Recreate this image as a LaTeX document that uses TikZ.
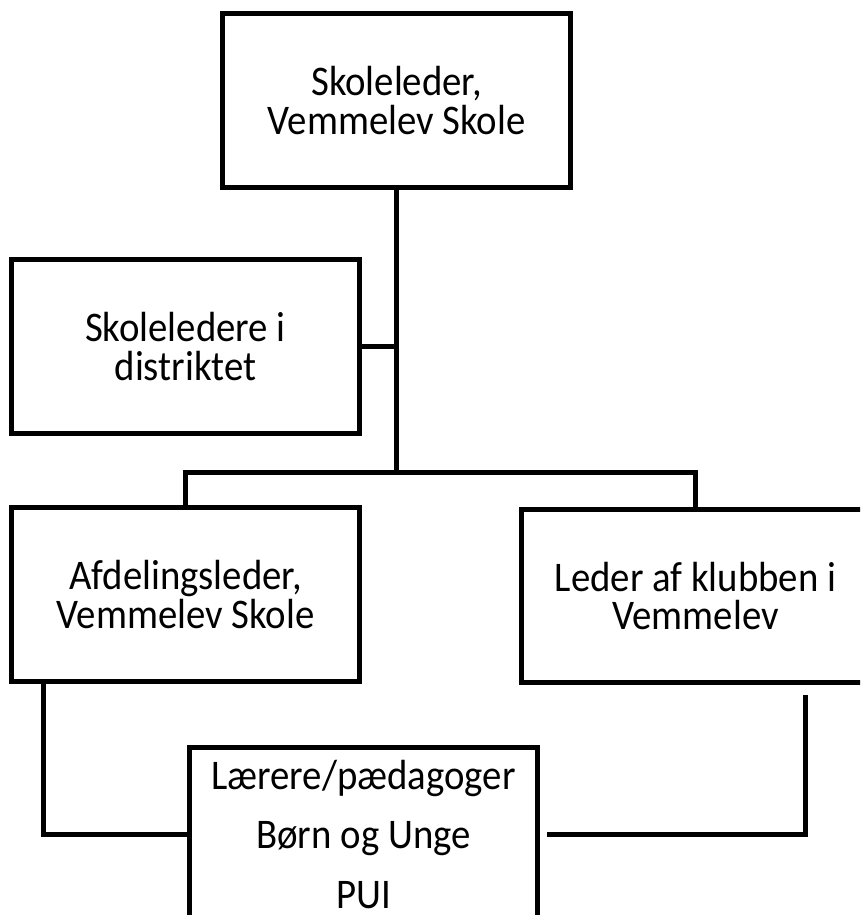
\documentclass[tikz,border=0pt]{standalone}
\usepackage{fontspec}
\setmainfont{Carlito}[FakeStretch=0.92]
\usetikzlibrary{calc}

\begin{document}
\begin{tikzpicture}[x=.02cm,y=-.02cm]
	\tikzset{orgbox/.style={draw,line width=.1cm,minimum width=6.98cm,minimum height=3.48cm,
		inner sep=0pt,align=center,font=\fontsize{24}{22}\selectfont},
		orglink/.style={line width=.1cm}}
	\useasboundingbox (0,0) rectangle (860,915);
	\clip (0,0) rectangle (860,915);
	
	% boxes
	\node[orgbox] (lead) at (396.5,100.5) {Skoleleder,\\Vemmelev Skole};
	\node[orgbox] (district) at (185.5,346.5) {Skoleledere i\\distriktet};
	\node[orgbox] (afd) at (185.5,594.5) {Afdelingsleder,\\Vemmelev Skole};
	\node[orgbox] (klub) at (695.5,596) {Leder af klubben i\\Vemmelev};
	\node[orgbox,font=\fontsize{24}{34}\selectfont] (staff) at (363.5,834.5) {L\ae rere/p\ae dagoger\\B\o rn og Unge\\PUI};
	
	% lines
	\coordinate (fork) at (lead.south |- 0,472);
	\draw[orglink] (lead.south) -- (fork);
	\draw[orglink] (district.east) -- (district.east -| lead.south);
	\draw[orglink] (afd.north) |- (fork) -| (klub.north);
	
	\coordinate (afdfoot) at ($(afd.south west)!.1!(afd.south east)$);
	\coordinate (klubfoot) at ([yshift=-.2cm]$(klub.south west)!.81!(klub.south east)$);
	\draw[orglink] (afdfoot) |- (staff.west);
	\draw[orglink] (klubfoot) |- ([xshift=.14cm]staff.east);
	
\end{tikzpicture}
\end{document}
